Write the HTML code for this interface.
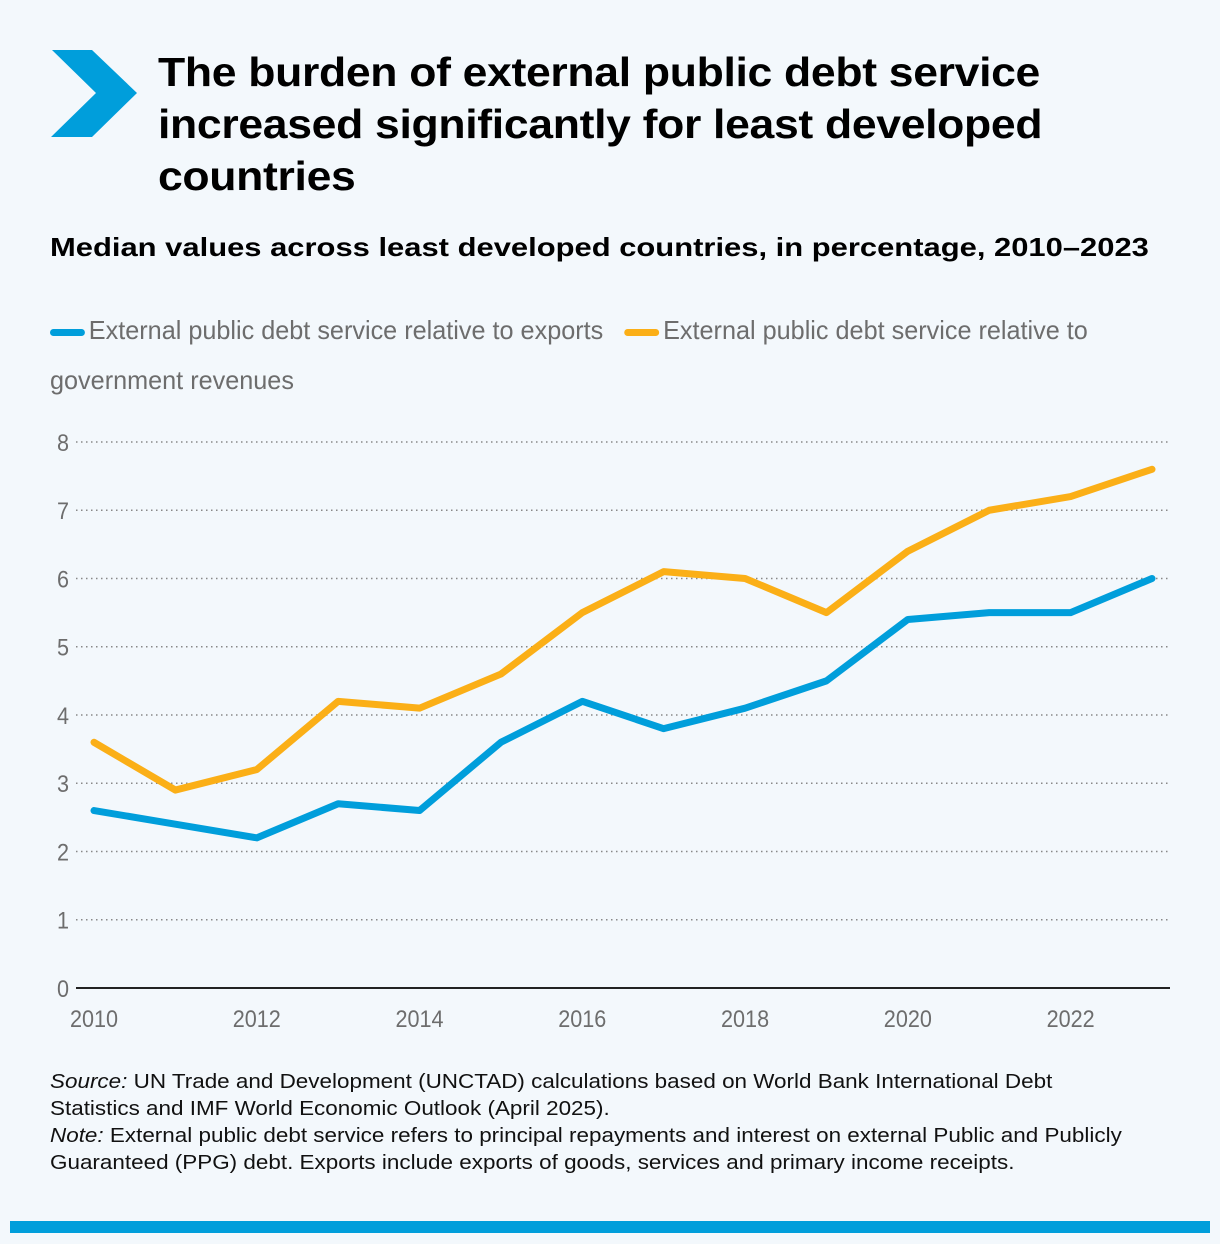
<!DOCTYPE html>
<html><head><meta charset="utf-8"><style>
body{margin:0;background:#f3f8fc;font-family:"Liberation Sans",sans-serif;}
#wrap{position:relative;width:1220px;height:1244px;overflow:hidden;background:#f3f8fc;}
h1{position:absolute;left:158px;top:46px;margin:0;font-size:41px;line-height:52px;font-weight:bold;color:#000;letter-spacing:-0.3px;transform:scaleX(1.086);transform-origin:left;white-space:nowrap;}
.sub{position:absolute;left:50px;top:232px;font-size:26px;font-weight:bold;color:#000;transform:scaleX(1.19);transform-origin:left;white-space:nowrap;}
.legend{position:absolute;left:50px;top:305px;width:1110px;font-size:26px;line-height:50px;color:#6d6d6d;transform:scaleX(0.97);transform-origin:left;}
.sw{display:inline-block;width:36px;height:7px;border-radius:4px;vertical-align:middle;margin-right:4px;}
.foot{position:absolute;left:50px;top:1068px;font-size:20.5px;line-height:27px;color:#111;transform:scaleX(1.095);transform-origin:left;white-space:nowrap;}
.bar{position:absolute;left:10px;top:1221px;width:1200px;height:12px;background:#009edb;}
</style></head><body><div id="wrap">
<svg style="position:absolute;left:0;top:0" width="160" height="160"><polygon points="52,50 92,50 137,93 92,137 51,137 96,93" fill="#009edb"/></svg>
<h1>The burden of external public debt service<br>increased significantly for least developed<br>countries</h1>
<div class="sub">Median values across least developed countries, in percentage, 2010–2023</div>
<div class="legend"><span><span class="sw" style="background:#009edb"></span>External public debt service relative to exports</span>&nbsp;&nbsp; <span><span class="sw" style="background:#fbaf17"></span>External public debt service relative to<br>government revenues</span></div>
<svg id="chart" style="position:absolute;left:0;top:0" width="1220" height="1060"></svg>
<div class="foot"><i>Source:</i> UN Trade and Development (UNCTAD) calculations based on World Bank International Debt<br>Statistics and IMF World Economic Outlook (April 2025).<br><i>Note:</i> External public debt service refers to principal repayments and interest on external Public and Publicly<br>Guaranteed (PPG) debt. Exports include exports of goods, services and primary income receipts.</div>
<div class="bar"></div>
</div>
<script>
const years=[2010,2011,2012,2013,2014,2015,2016,2017,2018,2019,2020,2021,2022,2023];
const exportsSeries=[2.6,2.4,2.2,2.7,2.6,3.6,4.2,3.8,4.1,4.5,5.4,5.5,5.5,6.0];
const revenuesSeries=[3.6,2.9,3.2,4.2,4.1,4.6,5.5,6.1,6.0,5.5,6.4,7.0,7.2,7.6];
const yTicks=[0,1,2,3,4,5,6,7,8];
const xTicks=[2010,2012,2014,2016,2018,2020,2022];
const NS='http://www.w3.org/2000/svg';
const svg=document.getElementById('chart');
const x=v=>94+(v-2010)*(1152-94)/13;
const y=v=>988-v*(988-442)/8;
function mk(t,a){const e=document.createElementNS(NS,t);for(const k in a)e.setAttribute(k,a[k]);svg.appendChild(e);return e;}
yTicks.forEach(t=>{
  if(t>0){const l=mk('line',{x1:76,x2:1170,y1:y(t),y2:y(t),stroke:'#888','stroke-width':1.5,'stroke-dasharray':'1.5 3.5'});
  
  }
  const tx=mk('text',{x:57,y:y(t)+9,'font-size':24,fill:'#6d6d6d','font-family':'Liberation Sans, sans-serif',transform:`translate(57 0) scale(0.9 1) translate(-57 0)`});
  tx.textContent=t;
  
  
});
const ax=mk('line',{x1:76,x2:1170,y1:988,y2:988,stroke:'#222','stroke-width':2});


xTicks.forEach(t=>{
  const tx=mk('text',{x:x(t),y:1027,'font-size':24,fill:'#6d6d6d','text-anchor':'middle','font-family':'Liberation Sans, sans-serif',transform:`translate(${x(t)} 0) scale(0.9 1) translate(${-x(t)} 0)`});
  tx.textContent=t;
  
  
});
function line(vals,color,name){
  const p=mk('polyline',{points:vals.map((v,i)=>x(years[i])+','+y(v)).join(' '),fill:'none',stroke:color,'stroke-width':7,'stroke-linejoin':'round','stroke-linecap':'round'});
  
  
}
line(exportsSeries,'#009edb','line-exports');
line(revenuesSeries,'#fbaf17','line-revenues');
</script></body></html>
